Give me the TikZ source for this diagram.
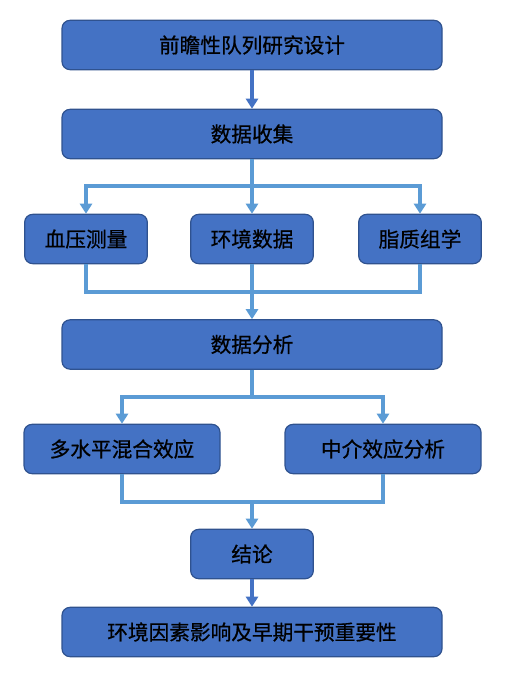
\documentclass[tikz,border=0pt]{standalone}
\usepackage{fontspec}
\setmainfont{Noto Sans CJK SC}
\newfontfamily\boxfont{Noto Sans CJK SC}[FakeBold=0.7]
\usetikzlibrary{arrows.meta,calc}
\definecolor{boxfill}{HTML}{4472C4}
\definecolor{boxline}{HTML}{2F528F}
\definecolor{linkblue}{HTML}{5B9BD5}
\tikzset{stage/.style={
        draw=boxline, line width=0.9pt, fill=boxfill, rounded corners=6pt,
        minimum height=37pt, inner sep=0pt, text=black,
        font=\boxfont\fontsize{15.5}{18}\selectfont
    },
    wide stage/.style={stage, minimum width=285pt},
    small stage/.style={stage, minimum width=92pt},
    mid stage/.style={stage, minimum width=147pt},
    step link/.style={draw=boxfill, line width=2.4pt,
        -{Triangle[width=9pt,length=7.5pt]}},
    branch link/.style={draw=linkblue, line width=3pt, line join=miter,
        -{Triangle[width=9pt,length=7.5pt]}},
    merge link/.style={draw=linkblue, line width=3pt, line join=miter}
}

\begin{document}
\begin{tikzpicture}[x=0.75pt, y=-0.75pt]
        \useasboundingbox (0,0) rectangle (505,677);

        \node [wide stage] (design) at (252,45) {前瞻性队列研究设计};
        \node [wide stage] (collect) at (252,134) {数据收集};

        \node [small stage] (bp) at (86,239) {血压测量};
        \node [small stage] (env) at (252,239) {环境数据};
        \node [small stage] (lipid) at (420,239) {脂质组学};

        \node [wide stage] (analysis) at (252,344.5) {数据分析};

        \node [mid stage] (mixed) at (122,449) {多水平混合效应};
        \node [mid stage] (mediate) at (383,449) {中介效应分析};

        \node [small stage] (concl) at (252,554) {结论};
        \node [wide stage] (result) at (252,632) {环境因素影响及早期干预重要性};

        % split and merge points
        \coordinate (split1) at ($(collect.south)!0.5!(env.north)$);
        \coordinate (merge1) at ($(env.south)!0.5!(analysis.north)$);
        \coordinate (split2) at ($(analysis.south)!0.5!(analysis.south |- mixed.north)$);
        \coordinate (merge2) at ($(concl.north |- mixed.south)!0.5!(concl.north)$);

        \draw [step link] (design) -- (collect);

        \foreach \k in {bp,env,lipid} {
            \draw [branch link] (collect.south) -- (split1) -| (\k.north);
        }
        \foreach \k in {bp,lipid} {
            \draw [merge link] (\k.south) |- (merge1);
        }
        \draw [branch link] (env.south) -- (analysis.north);

        \foreach \k in {mixed,mediate} {
            \draw [branch link] (analysis.south) -- (split2) -| (\k.north);
            \draw [merge link] (\k.south) |- (merge2);
        }
        \draw [branch link] (merge2) -- (concl.north);

        \draw [step link] (concl) -- (result);
    \end{tikzpicture}
\end{document}
